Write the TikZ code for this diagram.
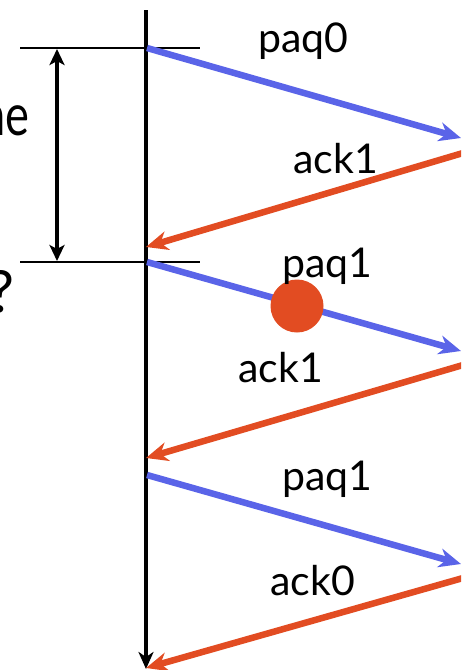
\documentclass[tikz,border=0pt]{standalone}
\usepackage{fontspec}
\setmainfont{Lato}
\usetikzlibrary{arrows.meta}
\definecolor{pblue}{RGB}{90,100,232}
\definecolor{ared}{RGB}{226,76,34}
\begin{document}
\begin{tikzpicture}[x=1pt,y=-1pt,
  pkt/.style={draw=pblue,line width=6.5pt,-{Stealth[length=22pt,width=19pt,inset=7pt]}},
  ackarr/.style={draw=ared,line width=6.5pt,-{Stealth[length=22pt,width=19pt,inset=7pt]}},
  lbl/.style={inner sep=0pt,anchor=base west,font=\fontsize{41}{41}\selectfont},
  side/.style={inner sep=0pt,anchor=base east,font=\fontsize{58}{58}\selectfont},
  tick/.style={line width=2pt},
  timeline/.style={line width=4.5pt,-{Stealth[length=17pt,width=15pt,inset=5pt]}}]
\useasboundingbox (0,0) rectangle (461,670);
\clip (0,0) rectangle (461,670);
% coordinates
\coordinate (top) at (146,10);
\coordinate (bot) at (146,669);
\coordinate (h1l) at (20,48);
\coordinate (h1r) at (200,48);
\coordinate (h2l) at (20,262);
\coordinate (h2r) at (200,262);
\coordinate (d1) at (57,49);
\coordinate (d2) at (57,261);
\coordinate (s1) at (147,48);
\coordinate (r1) at (461,138);
\coordinate (r1b) at (463,153);
\coordinate (a1) at (146,247);
\coordinate (s2) at (147,262);
\coordinate (r2) at (461,351);
\coordinate (r2b) at (463,365);
\coordinate (a2) at (146,458);
\coordinate (s3) at (147,475);
\coordinate (r3) at (461,564);
\coordinate (r3b) at (463,578);
\coordinate (a3) at (146,668);
% left labels
\node[side,xscale=0.78,transform shape] (ne) at (30,135) {ne};
\node[side] (q) at (15,312) {?};
% time line and brackets
\draw[timeline] (top) -- (bot);
\draw[tick] (h1l) -- (h1r);
\draw[tick] (h2l) -- (h2r);
\draw[line width=4pt,{Stealth[length=16pt,width=15pt,inset=4pt]}-{Stealth[length=16pt,width=15pt,inset=4pt]}] (d1) -- (d2);
% messages
\draw[pkt] (s1) -- (r1);
\draw[ackarr] (r1b) -- (a1);
\draw[pkt] (s2) -- (r2);
\draw[ackarr] (r2b) -- (a2);
\draw[pkt] (s3) -- (r3);
\draw[ackarr] (r3b) -- (a3);
% loss
\fill[ared] (297,306) circle (26.5) node (loss) {};
% labels
\node[lbl] (l1) at (258,52) {paq0};
\node[lbl] (l2) at (293,173) {ack1};
\node[lbl] (l3) at (282,277) {paq1};
\node[lbl] (l4) at (238,382) {ack1};
\node[lbl] (l5) at (282,490) {paq1};
\node[lbl] (l6) at (270,595) {ack0};
\end{tikzpicture}
\end{document}
